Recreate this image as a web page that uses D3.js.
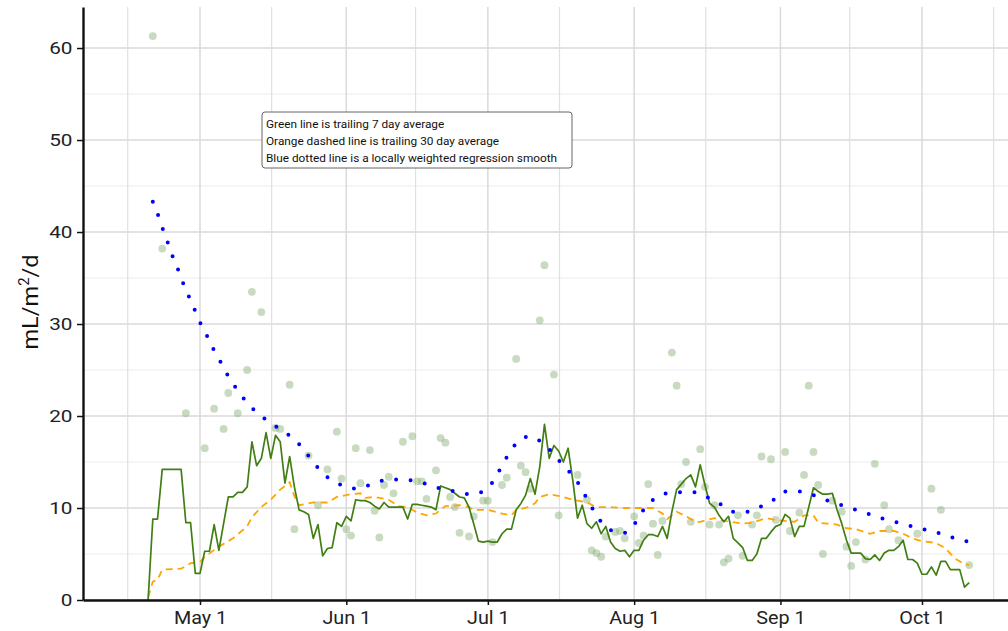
<!DOCTYPE html>
<html><head><meta charset="utf-8">
<script src="https://cdn.jsdelivr.net/npm/d3@7"></script>
<style>
html,body{margin:0;padding:0;background:#fff;}
svg{display:block;font-family:Roboto,"Liberation Sans",Arial,sans-serif;}
</style></head>
<body><svg id="chart" width="1008" height="631"></svg>
<script>
// ---------------- data ----------------
const YEAR = 2023;
const yTicks = [0, 10, 20, 30, 40, 50, 60];
const monthTicks = ["05-01", "06-01", "07-01", "08-01", "09-01", "10-01"];
const legendLines = [
  "Green line is trailing 7 day average",
  "Orange dashed line is trailing 30 day average",
  "Blue dotted line is a locally weighted regression smooth"
];

// daily observations (scatter)
const pointDates = ["04-21","04-23","04-28","05-02","05-04","05-06","05-07","05-09","05-11","05-12","05-14","05-17","05-18","05-20","05-21","05-24","05-26","05-28","05-30","05-31","06-01","06-02","06-03","06-04","06-06","06-07","06-08","06-09","06-10","06-11","06-13","06-15","06-16","06-17","06-18","06-20","06-21","06-22","06-23","06-24","06-25","06-27","06-28","06-30","07-01","07-02","07-04","07-05","07-07","07-08","07-09","07-10","07-12","07-13","07-15","07-16","07-20","07-22","07-23","07-24","07-25","07-26","07-28","07-29","07-30","08-01","08-02","08-03","08-04","08-05","08-06","08-07","08-09","08-10","08-11","08-12","08-13","08-15","08-16","08-17","08-18","08-19","08-20","08-21","08-23","08-24","08-26","08-27","08-28","08-30","08-31","09-02","09-03","09-05","09-06","09-07","09-08","09-09","09-10","09-12","09-14","09-15","09-16","09-17","09-19","09-21","09-23","09-24","09-26","09-30","10-03","10-05","10-11"];
const pointValues = [61.3,38.2,20.3,16.5,20.8,18.6,22.5,20.3,25.0,33.5,31.3,18.7,18.6,23.4,7.7,15.7,10.3,14.2,18.3,13.2,7.7,7.0,16.5,12.7,16.3,9.7,6.8,12.5,13.4,11.6,17.2,17.8,12.9,12.9,11.0,14.1,17.6,17.1,11.2,10.1,7.3,6.9,9.1,10.8,10.8,6.3,12.5,13.3,26.2,14.6,13.9,12.1,30.4,36.4,24.5,9.2,13.6,10.9,5.4,5.1,4.7,6.9,7.4,7.5,6.7,9.1,6.2,7.0,12.6,8.3,4.9,8.6,26.9,23.3,12.6,15.0,8.5,16.4,12.3,8.2,10.3,8.2,4.1,4.5,9.2,4.8,8.2,9.2,15.6,15.3,8.7,16.1,7.5,9.5,13.6,23.3,16.1,12.5,5.0,10.8,9.6,5.8,3.7,6.3,4.4,14.8,10.3,7.7,6.5,7.2,12.1,9.8,3.8];

// trailing 7 day average, one value per day from 04-20
const avg7Start = "04-20";
const avg7Values = [0,8.8,8.8,14.2,14.2,14.2,14.2,14.2,8.4,8.4,2.9,
  2.9,5.3,5.3,8.2,5.4,8.3,11.2,11.2,11.7,11.7,12.3,17.2,14.6,15.4,18.2,15.4,17.9,17.2,12.7,15.6,12.3,9.8,9.6,9.3,6.7,8.2,4.8,5.6,5.7,8.4,8.0,
  9.1,8.6,10.9,10.8,10.8,10.6,10.2,9.9,10.6,10.1,10.1,10.1,10.1,8.8,10.4,10.4,10.3,10.2,10.1,9.8,12.4,12.2,12.0,11.6,11.2,11.1,10.1,8.3,6.4,6.3,
  6.4,6.3,6.3,7.2,7.7,7.7,9.8,10.5,11.4,13.2,11.5,14.5,19.1,15.4,16.8,16.2,15.0,16.5,13.0,8.9,10.3,8.3,7.8,8.5,7.2,8.0,6.3,5.6,5.3,5.4,4.7,
  5.4,5.4,6.5,7.1,7.1,6.9,8.0,6.7,9.6,12.0,12.6,13.2,13.6,12.3,14.7,12.5,10.5,10.1,9.2,8.5,9.1,6.7,6.2,5.7,4.3,4.3,5.0,6.7,6.7,7.4,8.0,
  8.2,9.3,8.9,6.9,8.0,8.0,10.1,12.2,11.8,11.5,11.5,11.6,9.8,8.3,6.5,5.1,5.1,5.1,4.5,4.4,4.9,4.3,5.1,5.4,5.4,5.8,6.5,4.4,4.4,4.0,
  2.8,2.8,3.6,2.7,4.2,4.2,3.3,3.3,3.3,1.4,1.9];

// trailing 30 day average (read at irregular dates)
const avg30Dates = ["04-20","04-21","04-22","04-23","04-27","04-29","05-01","05-02","05-05","05-08","05-11","05-12","05-14","05-16","05-18","05-20","05-21","05-22","05-25","05-28","05-30","06-02","06-04","06-05","06-07","06-10","06-12","06-14","06-16","06-18","06-20","06-22","06-25","06-27","06-28","07-01","07-04","07-06","07-07","07-09","07-11","07-12","07-14","07-17","07-19","07-22","07-24","07-27","07-30","08-02","08-05","08-07","08-08","08-10","08-12","08-14","08-15","08-18","08-20","08-24","08-26","08-29","08-31","09-02","09-04","09-06","09-08","09-09","09-11","09-13","09-15","09-17","09-20","09-22","09-25","09-27","09-29","10-01","10-04","10-06","10-08","10-10","10-11"];
const avg30Values = [0.3,2.0,2.2,3.3,3.4,4.0,4.1,4.7,5.8,6.7,8.0,9.0,10.1,10.9,12.0,12.8,11.3,10.3,10.6,10.6,11.2,11.5,11.6,11.1,11.2,10.9,10.2,10.1,9.5,9.2,9.4,10.2,10.3,10.1,9.8,9.8,9.4,9.2,9.8,10.0,10.5,11.2,11.5,11.2,10.9,10.6,10.1,10.1,10.0,10.0,10.0,9.4,8.8,9.6,9.1,8.5,8.5,8.9,8.6,8.3,8.4,8.9,8.7,8.6,8.5,9.2,9.2,8.4,8.3,8.2,7.8,7.7,7.2,7.5,7.5,7.2,6.7,6.4,6.2,5.6,4.5,3.9,3.8];

// locally weighted regression smooth
const loessDates = ["04-21","04-22","04-23","04-24","04-25","04-26","04-27","04-28","04-29","04-30","05-01","05-02","05-03","05-04","05-05","05-06","05-07","05-08","05-09","05-10","05-11","05-12","05-13","05-15","05-17","05-19","05-21","05-23","05-25","05-27","05-29","05-31","06-03","06-06","06-09","06-12","06-15","06-18","06-21","06-24","06-27","06-30","07-02","07-04","07-05","07-07","07-09","07-10","07-12","07-14","07-16","07-18","07-20","07-22","07-23","07-25","07-27","07-28","07-30","08-01","08-03","08-05","08-07","08-10","08-14","08-16","08-19","08-22","08-25","08-28","08-30","09-02","09-05","09-08","09-11","09-14","09-17","09-20","09-23","09-26","09-29","10-02","10-05","10-08","10-11"];
const loessValues = [43.3,42.0,40.5,39.1,37.6,36.4,35.0,33.7,32.6,31.4,30.2,29.2,28.2,27.1,26.2,25.3,24.3,23.5,22.8,22.1,21.4,20.9,20.4,19.6,18.9,18.2,17.5,16.3,15.0,13.8,13.0,12.5,12.1,12.5,13.0,13.1,13.0,12.6,12.1,11.8,11.5,11.8,12.8,14.6,15.5,17.0,17.7,17.8,17.3,16.4,15.2,14.1,12.8,11.0,10.1,8.5,7.6,7.4,7.3,8.2,9.8,10.9,11.5,11.7,11.7,11.3,10.5,9.6,9.6,10.2,10.7,11.8,11.8,11.4,10.8,10.3,9.8,9.3,8.8,8.4,8.0,7.6,7.2,6.7,6.3];

// ---------------- drawing ----------------
const parseDay = s => d3.timeParse("%Y-%m-%d")(YEAR + "-" + s);
const svg = d3.select("#chart");
const W = 1008, H = 631;
const pLeft = 83, pRight = 1010, pTop = 7, pBottom = 600;

const x = d3.scaleTime().domain([parseDay("05-01"), parseDay("10-01")]).range([200, 922]);
x.domain([x.invert(pLeft), x.invert(pRight)]).range([pLeft, pRight]);
const y = d3.scaleLinear().domain([0, 64.46]).range([pBottom, pTop]);

// grid
const grid = svg.append("g");
const minorY = [5, 15, 25, 35, 45, 55];
grid.selectAll(".ym").data(minorY).join("line")
  .attr("x1", pLeft).attr("x2", W).attr("y1", d => y(d)).attr("y2", d => y(d))
  .attr("stroke", "#ebebeb").attr("stroke-width", 1);
grid.selectAll(".yM").data(yTicks).join("line")
  .attr("x1", pLeft).attr("x2", W).attr("y1", d => y(d)).attr("y2", d => y(d))
  .attr("stroke", "#dadada").attr("stroke-width", 1.5);
const monthAll = d3.timeMonth.range(d3.timeMonth.floor(x.domain()[0]), d3.timeMonth.offset(x.domain()[1], 2));
const minorX = d3.pairs(monthAll).map(([a, b]) => new Date((a.getTime() + b.getTime()) / 2));
grid.selectAll(".xm").data(minorX.filter(d => x(d) > pLeft && x(d) < W)).join("line")
  .attr("x1", d => x(d) - 1.5).attr("x2", d => x(d) - 1.5).attr("y1", pTop).attr("y2", pBottom)
  .attr("stroke", "#e0e0e0").attr("stroke-width", 1.2);
grid.selectAll(".xM").data(monthTicks.map(parseDay)).join("line")
  .attr("x1", d => x(d)).attr("x2", d => x(d)).attr("y1", pTop).attr("y2", pBottom)
  .attr("stroke", "#dadada").attr("stroke-width", 1.5);

// points
svg.append("g").selectAll("circle").data(pointDates.map((d, i) => [parseDay(d), pointValues[i]])).join("circle")
  .attr("cx", d => x(d[0])).attr("cy", d => y(d[1])).attr("r", 3.9)
  .attr("fill", "#86ad70").attr("fill-opacity", 0.45);

// lines
const line = d3.line().x(d => x(d[0])).y(d => y(d[1]));
const s7 = parseDay(avg7Start);
const avg7 = avg7Values.map((v, i) => [d3.timeDay.offset(s7, i), v]);
const avg30 = avg30Dates.map((d, i) => [parseDay(d), avg30Values[i]]);
const loess = loessDates.map((d, i) => [parseDay(d), loessValues[i]]);

svg.append("path").attr("d", line(avg30)).attr("fill", "none")
  .attr("stroke", "#ffa500").attr("stroke-width", 1.8).attr("stroke-dasharray", "7,5");
svg.append("path").attr("d", line(avg7)).attr("fill", "none")
  .attr("stroke", "#417f14").attr("stroke-width", 1.7).attr("stroke-linejoin", "round");
svg.append("path").attr("d", d3.line().x(d => x(d[0])).y(d => y(d[1])).curve(d3.curveMonotoneX)(loess))
  .attr("fill", "none")
  .attr("stroke", "#0000ff").attr("stroke-width", 4).attr("stroke-linecap", "round")
  .attr("stroke-dasharray", "0,14.5");

// axes
const xAxis = svg.append("g").attr("transform", `translate(0,${pBottom})`)
  .call(d3.axisBottom(x).tickValues(monthTicks.map(parseDay)).tickFormat(d3.timeFormat("%b %-d"))
    .tickSize(5).tickSizeOuter(0).tickPadding(7));
const yAxis = svg.append("g").attr("transform", `translate(${pLeft},0)`)
  .call(d3.axisLeft(y).tickValues(yTicks).tickSize(6).tickSizeOuter(0));
[xAxis, yAxis].forEach(a => {
  a.select(".domain").attr("stroke", "#111").attr("stroke-width", 2.4);
  a.selectAll(".tick line").attr("stroke", "#111").attr("stroke-width", 1.5);
  a.selectAll("text").attr("fill", "#222").attr("font-family", "Roboto, sans-serif");
});
xAxis.selectAll("text").attr("font-size", 17.5).attr("transform", "scale(1.13,1)");
yAxis.selectAll("text").attr("font-size", 17.3).attr("x", 0)
  .attr("transform", "translate(-10.5,0) scale(1.2,1)");

// y label
const yl = svg.append("text").attr("transform", "translate(37.5,302) rotate(-90) scale(1.07,1)")
  .attr("text-anchor", "middle").attr("font-size", 22).attr("fill", "#111");
yl.append("tspan").text("mL/m");
yl.append("tspan").text("2").attr("font-size", 14).attr("dy", -9);
yl.append("tspan").text("/d").attr("dy", 9);

// legend box
const lg = svg.append("g").attr("transform", "translate(262,112)");
lg.append("rect").attr("width", 310).attr("height", 56).attr("rx", 3)
  .attr("fill", "#fff").attr("stroke", "#666").attr("stroke-width", 1);
lg.selectAll("text").data(legendLines).join("text")
  .attr("x", 4).attr("y", (d, i) => 15.5 + i * 17.3)
  .attr("font-size", 11.8).attr("fill", "#111").text(d => d);
</script></body></html>
